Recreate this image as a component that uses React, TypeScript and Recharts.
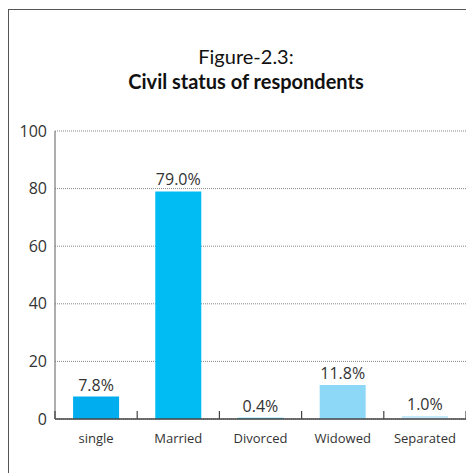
import { BarChart, Bar, XAxis, YAxis, CartesianGrid, Cell, LabelList } from "recharts";

const categories = ["single", "Married", "Divorced", "Widowed", "Separated"];
const percentages = [7.8, 79.0, 0.4, 11.8, 1.0];
const barColors = ["#00aeef", "#00bcf2", "#3cc6f0", "#8ed8f7", "#c6e9f9"];
const yTicks = [0, 20, 40, 60, 80, 100];

const data = categories.map((name, i) => ({ name, value: percentages[i] }));

const FONT = "'Open Sans', sans-serif";

// category label plus boundary ticks that point up from the axis
function CategoryTick(props: any) {
  const { x, y, payload, index } = props;
  const half = payload.offset ?? 0;
  const last = index === categories.length - 1;
  return (
    <g>
      <line x1={x - half} y1={y} x2={x - half} y2={y - 8} stroke="#444" strokeWidth={1.2} />
      {last && <line x1={x + half} y1={y} x2={x + half} y2={y - 8} stroke="#444" strokeWidth={1.2} />}
      <text x={x} y={y + 24} textAnchor="middle" fontSize={13} fill="#333" fontFamily={FONT}>
        {payload.value}
      </text>
    </g>
  );
}

export default function App() {
  return (
    <div style={{ position: "relative", width: 466, height: 465, overflow: "hidden" }}>
      <div
        style={{
          position: "absolute",
          left: 0,
          top: 1,
          right: 0,
          bottom: 0,
          borderLeft: "1.5px solid #555",
          borderTop: "1.5px solid #555",
        }}
      />
      <div
        style={{
          position: "absolute",
          left: 0,
          width: 476,
          top: 36,
          textAlign: "center",
          fontFamily: "Lato, sans-serif",
          fontSize: 20,
          lineHeight: "25px",
          color: "#111",
        }}
      >
        <div>Figure-2.3:</div>
        <div style={{ fontWeight: 700 }}>Civil status of respondents</div>
      </div>
      <div style={{ position: "absolute", left: 0, top: 0 }}>
        <BarChart
          width={466}
          height={465}
          data={data}
          margin={{ top: 123, right: 8, bottom: 24, left: 0 }}
          barCategoryGap="22%"
        >
          <CartesianGrid vertical={false} stroke="#888" strokeDasharray="1 1" />
          <XAxis
            dataKey="name"
            height={30}
            tickLine={false}
            tickSize={0}
            tickMargin={0}
            axisLine={{ stroke: "#444", strokeWidth: 1.5 }}
            tick={<CategoryTick />}
            interval={0}
          />
          <YAxis
            width={47}
            domain={[0, 100]}
            ticks={yTicks}
            tickLine={false}
            axisLine={{ stroke: "#777", strokeWidth: 1.2 }}
            tick={{ fontSize: 16, fill: "#333", fontFamily: FONT }}
          />
          <Bar dataKey="value" isAnimationActive={false}>
            {data.map((d, i) => (
              <Cell key={d.name} fill={barColors[i]} />
            ))}
            <LabelList
              dataKey="value"
              position="top"
              offset={6}
              formatter={(v: any) => `${Number(v).toFixed(1)}%`}
              style={{ fontSize: 16, fill: "#333", fontFamily: FONT }}
            />
          </Bar>
        </BarChart>
      </div>
    </div>
  );
}
